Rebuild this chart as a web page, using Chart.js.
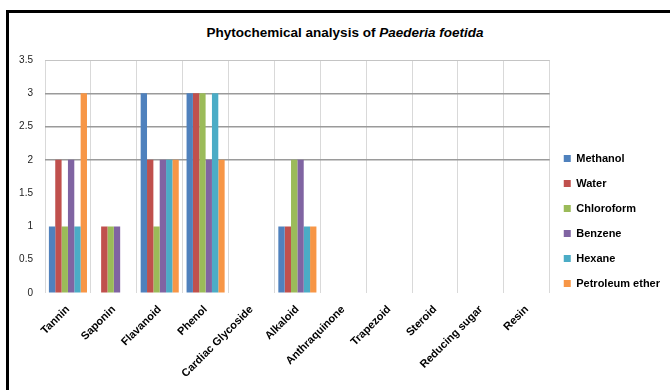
<!DOCTYPE html>
<html>
<head>
<meta charset="utf-8">
<script src="https://cdn.jsdelivr.net/npm/chart.js@4.4.1/dist/chart.umd.min.js"></script>
<style>
  html, body { margin: 0; padding: 0; background: #fff; }
  #wrap { position: relative; width: 670px; height: 390px; overflow: hidden; }
  #frame { position: absolute; left: 6px; top: 10px; width: 680px; height: 400px;
           border-left: 3px solid #000; border-top: 3px solid #000; box-sizing: border-box; }
  #title { position: absolute; left: 0; top: 25px; width: 690px; text-align: center;
           font: bold 13.5px "Liberation Sans", Arial, sans-serif; color: #000; }
  canvas { position: absolute; left: 0; top: 0; }
</style>
</head>
<body>
<div id="wrap">
  <div id="frame"></div>
  <div id="title">Phytochemical analysis of <i>Paederia foetida</i></div>
  <canvas id="c" width="670" height="390"></canvas>
</div>
<script>
// Tests run on each extract
const categories = ["Tannin", "Saponin", "Flavanoid", "Phenol", "Cardiac Glycoside", "Alkaloid",
  "Anthraquinone", "Trapezoid", "Steroid", "Reducing sugar", "Resin"];

// Score per test for each solvent extract
const methanol       = [1, 0, 3, 3, 0, 1, 0, 0, 0, 0, 0];
const water          = [2, 1, 2, 3, 0, 1, 0, 0, 0, 0, 0];
const chloroform     = [1, 1, 1, 3, 0, 2, 0, 0, 0, 0, 0];
const benzene        = [2, 1, 2, 2, 0, 2, 0, 0, 0, 0, 0];
const hexane         = [1, 0, 2, 3, 0, 1, 0, 0, 0, 0, 0];
const petroleumEther = [3, 0, 2, 2, 0, 1, 0, 0, 0, 0, 0];

const yTicks = [0, 0.5, 1, 1.5, 2, 2.5, 3, 3.5];

const series = [
  { label: "Methanol", data: methanol, color: "#4F81BD" },
  { label: "Water", data: water, color: "#C0504D" },
  { label: "Chloroform", data: chloroform, color: "#9BBB59" },
  { label: "Benzene", data: benzene, color: "#8064A2" },
  { label: "Hexane", data: hexane, color: "#4BACC6" },
  { label: "Petroleum ether", data: petroleumEther, color: "#F79646" }
];

new Chart(document.getElementById("c"), {
  type: "bar",
  data: {
    labels: categories,
    datasets: series.map(s => ({
      label: s.label,
      data: s.data,
      backgroundColor: s.color,
      borderWidth: 0,
      categoryPercentage: 0.83,
      barPercentage: 1.0
    }))
  },
  options: {
    responsive: false,
    animation: false,
    layout: { padding: { top: 60, left: 10, right: 0, bottom: 8 } },
    plugins: {
      title: { display: false },
      tooltip: { enabled: false },
      legend: {
        position: "right",
        labels: {
          boxWidth: 7,
          boxHeight: 7,
          padding: 14,
          color: "#000",
          font: { family: "Liberation Sans", size: 11, weight: "bold" }
        }
      }
    },
    scales: {
      x: {
        grid: { color: "#d9d9d9", lineWidth: 1, drawTicks: false, offset: true },
        border: { display: false },
        ticks: {
          minRotation: 45, maxRotation: 45, autoSkip: false, padding: 10,
          color: "#000",
          font: { family: "Liberation Sans", size: 11, weight: "bold" }
        },
        afterFit: s => { s.height = 89; }
      },
      y: {
        min: 0, max: 3.5,
        afterBuildTicks: s => { s.ticks = yTicks.map(v => ({ value: v })); },
        grid: {
          drawTicks: false,
          color: c => {
            const v = c.tick && c.tick.value;
            if (v === 2 || v === 2.5 || v === 3) return "#9a9a9a";
            if (v === 3.5) return "#c4c4c4";
            return "rgba(0,0,0,0)";
          },
          lineWidth: c => (c.tick && c.tick.value >= 2 && c.tick.value <= 3) ? 1.5 : 1
        },
        border: { display: false },
        ticks: {
          padding: 12, color: "#222",
          font: { family: "Liberation Sans", size: 10 },
          callback: v => String(v)
        },
        afterFit: s => { s.width = 35; }
      }
    }
  }
});
</script>
</body>
</html>
